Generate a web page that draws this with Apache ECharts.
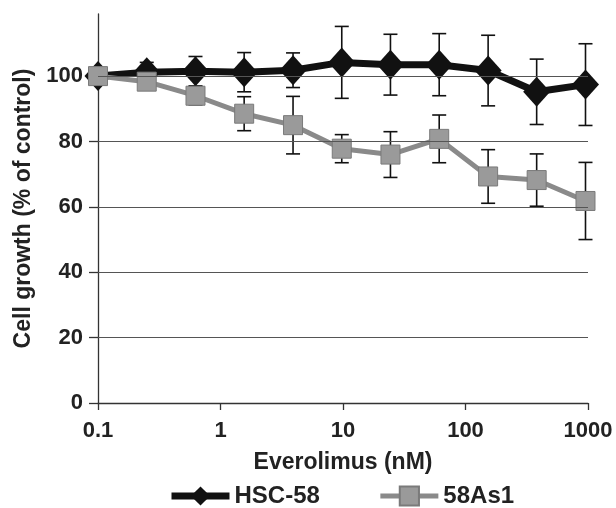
<!DOCTYPE html>
<html>
<head>
<meta charset="utf-8">
<script src="https://cdn.jsdelivr.net/npm/echarts@6/dist/echarts.min.js"></script>
<style>
html,body{margin:0;padding:0;background:#fff;}
#chart{width:616px;height:508px;}
</style>
</head>
<body>
<div id="chart"></div>
<script>
var concentrations = [0.1, 0.25, 0.625, 1.56, 3.91, 9.77, 24.4, 61.0, 153, 381, 954];
var hscMean = [100, 101.2, 101.5, 101.2, 101.8, 104.2, 103.5, 103.5, 101.7, 95.2, 97.4];
var hscErr  = [0.5, 3, 4.5, 6, 5.3, 11, 9.3, 9.5, 10.8, 10, 12.5];
var asMean  = [100, 98.3, 94, 88.5, 85, 77.8, 76, 80.8, 69.3, 68.2, 61.8];
var asErr   = [0.5, 2.5, 2.8, 5.2, 8.8, 4.3, 7, 7.3, 8.2, 8, 11.8];
var yTicks = [0, 20, 40, 60, 80, 100];
var xTicks = [0.1, 1, 10, 100, 1000];

function pairs(x, y){ return x.map(function(v,i){ return [v, y[i]]; }); }
function errData(x, m, e){ return x.map(function(v,i){ return [v, m[i]-e[i], m[i]+e[i]]; }); }

function errorRender(params, api){
  var x = api.value(0);
  var lo = api.coord([x, api.value(1)]);
  var hi = api.coord([x, api.value(2)]);
  var cap = 7;
  var st = {stroke:'#111', lineWidth:1.6};
  return {type:'group', children:[
    {type:'line', shape:{x1:lo[0],y1:lo[1],x2:hi[0],y2:hi[1]}, style:st},
    {type:'line', shape:{x1:lo[0]-cap,y1:lo[1],x2:lo[0]+cap,y2:lo[1]}, style:st},
    {type:'line', shape:{x1:hi[0]-cap,y1:hi[1],x2:hi[0]+cap,y2:hi[1]}, style:st}
  ]};
}

var font = '"Liberation Sans", Arial, Helvetica, sans-serif';
var chart = echarts.init(document.getElementById('chart'), null, {renderer:'canvas'});
chart.setOption({
  animation:false,
  backgroundColor:'#fff',
  grid:{left:98, right:28, top:14, bottom:105, containLabel:false},
  xAxis:{
    type:'log', logBase:10, min:0.1, max:1000,
    name:'Everolimus (nM)', nameLocation:'middle', nameGap:48,
    nameTextStyle:{fontFamily:font, fontWeight:'bold', fontSize:23, color:'#222'},
    axisLine:{lineStyle:{color:'#333', width:1.3}},
    axisTick:{show:true, length:7, inside:false, lineStyle:{color:'#333', width:1.3}},
    axisLabel:{margin:17, fontFamily:font, fontWeight:'bold', fontSize:22, color:'#222',
      formatter:function(v){ return String(Number(v.toPrecision(3))); }},
    splitLine:{show:false},
    minorTick:{show:false}
  },
  yAxis:{
    type:'value', min:0, max:119, interval:20,
    name:'Cell growth (% of control)', nameLocation:'middle', nameGap:58,
    nameTextStyle:{fontFamily:font, fontWeight:'bold', fontSize:23, color:'#222'},
    axisLine:{show:true, lineStyle:{color:'#333', width:1.3}},
    axisTick:{show:true, length:9, inside:false, lineStyle:{color:'#333', width:1.3}},
    axisLabel:{margin:15, fontFamily:font, fontWeight:'bold', fontSize:22, color:'#222', showMaxLabel:false,
      formatter:function(v){ return yTicks.indexOf(v) >= 0 ? String(v) : ''; }},
    splitLine:{show:false}
  },
  legend:{
    top:484, left:168, padding:0, itemWidth:58, itemHeight:24, itemGap:58,
    textStyle:{fontFamily:font, fontWeight:'bold', fontSize:24, color:'#222'},
    data:[
      {name:'HSC-58', lineStyle:{width:7, color:'#111'}},
      {name:'58As1', lineStyle:{width:5, color:'#8a8a8a'}}
    ]
  },
  series:[
    {name:'HSC-58err', type:'custom', renderItem:errorRender, data:errData(concentrations,hscMean,hscErr), z:1, silent:true,
      markLine:{silent:true, symbol:'none', label:{show:false}, animation:false,
        lineStyle:{color:'#555', width:1.2, type:'solid'},
        data:yTicks.filter(function(v){ return v > 0; }).map(function(v){ return {yAxis:v}; })}},
    {name:'58As1err', type:'custom', renderItem:errorRender, data:errData(concentrations,asMean,asErr), z:1, silent:true},
    {name:'HSC-58', type:'line', data:pairs(concentrations,hscMean), symbol:'diamond', symbolSize:[27,30],
      lineStyle:{color:'#111', width:7}, itemStyle:{color:'#111'}, z:3},
    {name:'58As1', type:'line', data:pairs(concentrations,asMean), symbol:'rect', symbolSize:19,
      lineStyle:{color:'#8a8a8a', width:5}, itemStyle:{color:'#9a9a9a', borderColor:'#7a7a7a', borderWidth:1}, z:4}
  ]
});
</script>
</body>
</html>
